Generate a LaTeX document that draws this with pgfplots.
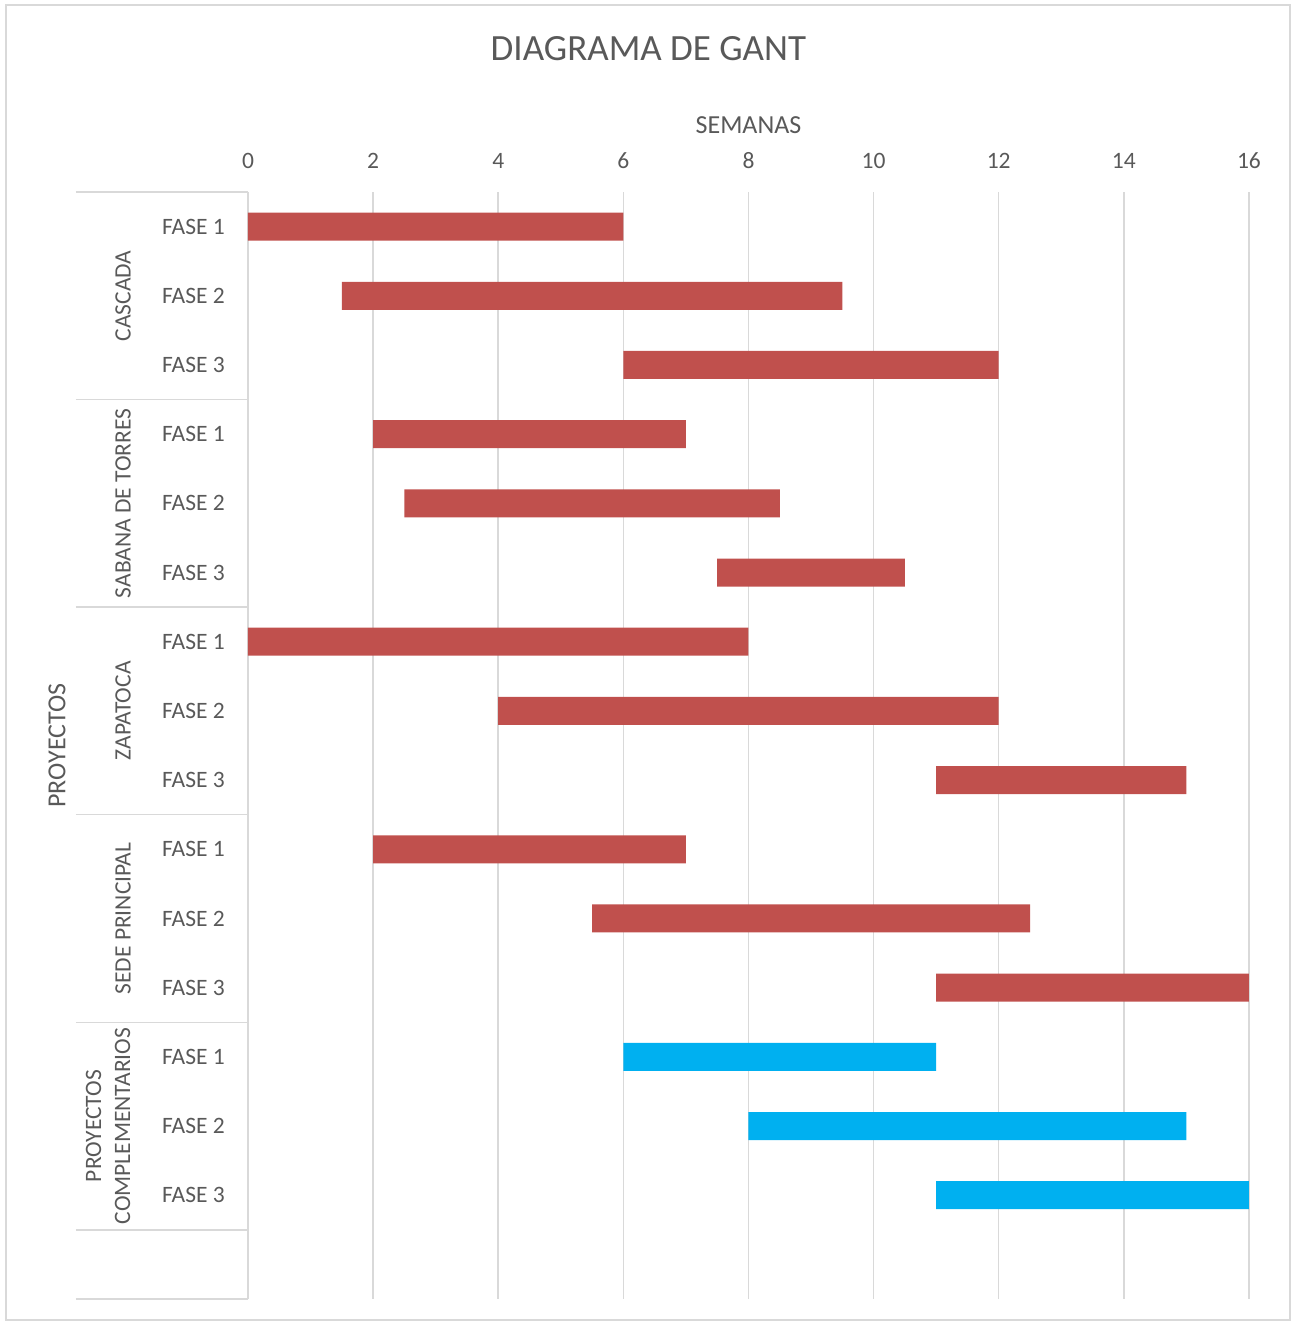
\documentclass[border=0pt]{standalone}
\usepackage{pgfplots}
\pgfplotsset{compat=1.18}
\usepackage{pgfplotstable}
\usepackage{fontspec}
\setmainfont{Carlito}
\definecolor{txt}{HTML}{595959}
\definecolor{gridc}{HTML}{D9D9D9}
\definecolor{barred}{HTML}{C0504D}
\definecolor{barblue}{HTML}{00B0F0}
\pgfplotstableread{
row start red blue
1 0 6 0
2 1.5 8 0
3 6 6 0
4 2 5 0
5 2.5 6 0
6 7.5 3 0
7 0 8 0
8 4 8 0
9 11 4 0
10 2 5 0
11 5.5 7 0
12 11 5 0
13 6 0 5
14 8 0 7
15 11 0 5
}\gantdata
\begin{document}
\begin{tikzpicture}
\useasboundingbox (-248pt,-25pt) rectangle (1043pt,1299pt);
\draw[gridc, line width=1.5pt] (-242pt,-21pt) rectangle (1042pt,1294pt);
\begin{axis}[
  scale only axis, width=1001pt, height=1107pt,
  xbar stacked, bar width=28pt,
  xmin=0, xmax=16, ymin=0.5, ymax=16.5, y dir=reverse,
  xtick={0,2,...,16}, ytick={1,...,15},
  yticklabels={FASE 1,FASE 2,FASE 3,FASE 1,FASE 2,FASE 3,FASE 1,FASE 2,FASE 3,FASE 1,FASE 2,FASE 3,FASE 1,FASE 2,FASE 3},
  xticklabel pos=upper,
  major tick length=0pt,
  xmajorgrids, major grid style={gridc, line width=1.5pt},
  separate axis lines,
  x axis line style={draw=none},
  y axis line style={gridc, line width=1.5pt},
  tick label style={font=\fontsize{23.5}{28}\selectfont, text=txt},
  /pgf/number format/assume math mode=true,
  xticklabel style={anchor=center, yshift=31pt},
  yticklabel style={anchor=east, inner sep=0pt, xshift=-23pt},
  xlabel={SEMANAS},
  xlabel style={at={(axis description cs:0.5,1)}, anchor=center, yshift=67pt, font=\fontsize{26}{30}\selectfont, text=txt},
  ylabel={PROYECTOS},
  ylabel style={at={([xshift=-191pt]axis description cs:0,0.5)}, anchor=center, font=\fontsize{26}{30}\selectfont, text=txt},
  title={DIAGRAMA DE GANT},
  title style={at={(axis description cs:0.4,1)}, anchor=center, yshift=137pt, font=\fontsize{37}{44}\selectfont, text=txt},
  clip=false,
]
\addplot[draw=none, fill=none] table[x=start, y=row] {\gantdata};
\addplot[draw=none, fill=barred] table[x=red, y=row] {\gantdata};
\addplot[draw=none, fill=barblue] table[x=blue, y=row] {\gantdata};
\pgfplotsinvokeforeach{0.5,3.5,6.5,9.5,12.5,15.5,16.5}{
  \draw[gridc, line width=1.5pt] ([xshift=-172pt]axis cs:0,#1) -- (axis cs:0,#1);
}
\node[rotate=90, font=\fontsize{23.5}{28}\selectfont, text=txt] at ([xshift=-125pt]axis cs:0,2) {CASCADA};
\node[rotate=90, font=\fontsize{23.5}{28}\selectfont, text=txt] at ([xshift=-125pt]axis cs:0,5) {SABANA DE TORRES};
\node[rotate=90, font=\fontsize{23.5}{28}\selectfont, text=txt] at ([xshift=-125pt]axis cs:0,8) {ZAPATOCA};
\node[rotate=90, font=\fontsize{23.5}{28}\selectfont, text=txt] at ([xshift=-125pt]axis cs:0,11) {SEDE PRINCIPAL};
\node[rotate=90, align=center, font=\fontsize{23.5}{29}\selectfont, text=txt] at ([xshift=-140pt]axis cs:0,14) {PROYECTOS\\COMPLEMENTARIOS};
\end{axis}
\end{tikzpicture}
\end{document}
